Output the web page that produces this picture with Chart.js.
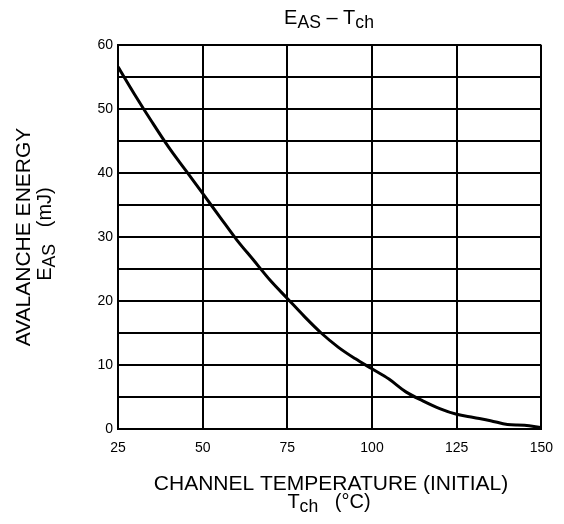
<!DOCTYPE html>
<html>
<head>
<meta charset="utf-8">
<script src="https://cdn.jsdelivr.net/npm/chart.js@4"></script>
<style>
html,body{margin:0;padding:0;background:#fff;}
#wrap{width:564px;height:524px;}
</style>
</head>
<body>
<div id="wrap"><canvas id="c" width="564" height="524"></canvas></div>
<script>
const temps = [25, 30, 35, 40, 45, 50, 55, 60, 65, 70, 75, 80, 85, 90, 95, 100, 105, 110, 115, 120, 125, 130, 135, 140, 145, 150];
const energy = [56.6, 52.2, 48.0, 44.0, 40.4, 36.8, 33.2, 29.6, 26.4, 23.2, 20.4, 17.6, 15.0, 12.8, 11.0, 9.4, 7.8, 5.8, 4.4, 3.2, 2.3, 1.8, 1.3, 0.7, 0.6, 0.2];
const xTicks = [25, 50, 75, 100, 125, 150];
const yLabelTicks = [0, 10, 20, 30, 40, 50, 60];

const FONT = "'Liberation Sans', Arial, sans-serif";

function drawSub(ctx, parts, cx, cy, size) {
  let w = 0;
  const widths = parts.map(p => {
    ctx.font = (p[1] ? size * 0.88 : size) + "px " + FONT;
    const m = ctx.measureText(p[0]).width;
    w += m;
    return m;
  });
  let x = cx - w / 2;
  parts.forEach((p, i) => {
    ctx.font = (p[1] ? size * 0.88 : size) + "px " + FONT;
    ctx.fillText(p[0], x, cy + (p[1] ? size * 0.25 : 0));
    x += widths[i];
  });
}

const textPlugin = {
  id: 'texts',
  afterDraw(chart) {
    const ctx = chart.ctx;
    ctx.save();
    ctx.fillStyle = '#000';
    ctx.textBaseline = 'middle';
    ctx.textAlign = 'left';
    // title
    drawSub(ctx, [["E", false], ["AS", true], [" \u2013 T", false], ["ch", true]], 329, 18, 20);
    // x axis title
    ctx.textAlign = 'center';
    ctx.font = "21px " + FONT;
    ctx.fillText("CHANNEL TEMPERATURE (INITIAL)", 331, 484);
    ctx.textAlign = 'left';
    drawSub(ctx, [["T", false], ["ch", true], ["   (\u00B0C)", false]], 329, 502, 20);
    // y axis title
    ctx.translate(24, 237);
    ctx.rotate(-Math.PI / 2);
    ctx.textAlign = 'center';
    ctx.font = "21px " + FONT;
    ctx.fillText("AVALANCHE ENERGY", 0, 0);
    ctx.textAlign = 'left';
    drawSub(ctx, [["E", false], ["AS", true], ["   (mJ)", false]], 3, 21, 20);
    ctx.restore();
  }
};

new Chart(document.getElementById('c'), {
  type: 'line',
  data: {
    datasets: [{
      data: temps.map((t, i) => ({x: t, y: energy[i]})),
      borderColor: '#000',
      borderWidth: 3,
      pointRadius: 0,
      tension: 0.35,
      fill: false
    }]
  },
  options: {
    responsive: false,
    animation: false,
    layout: {padding: {left: 0, top: 45, right: 19, bottom: 0}},
    plugins: {legend: {display: false}, tooltip: {enabled: false}, title: {display: false}},
    scales: {
      x: {
        type: 'linear',
        min: 25, max: 150,
        afterBuildTicks(scale) { scale.ticks = xTicks.map(v => ({value: v})); },
        afterFit(scale) { scale.height = 95; },
        grid: {color: '#000', lineWidth: 2, drawTicks: false},
        border: {color: '#000', width: 2},
        ticks: {color: '#000', font: {family: FONT, size: 14}, padding: 11, maxRotation: 0}
      },
      y: {
        min: 0, max: 60,
        afterBuildTicks(scale) {
          const t = [];
          for (let v = 0; v <= 60; v += 5) t.push({value: v});
          scale.ticks = t;
        },
        afterFit(scale) { scale.width = 118; },
        grid: {color: '#000', lineWidth: 2, drawTicks: false},
        border: {color: '#000', width: 2},
        ticks: {
          color: '#000', font: {family: FONT, size: 14}, padding: 5,
          callback: v => yLabelTicks.includes(v) ? String(v) : ''
        }
      }
    }
  },
  plugins: [textPlugin]
});
</script>
</body>
</html>
